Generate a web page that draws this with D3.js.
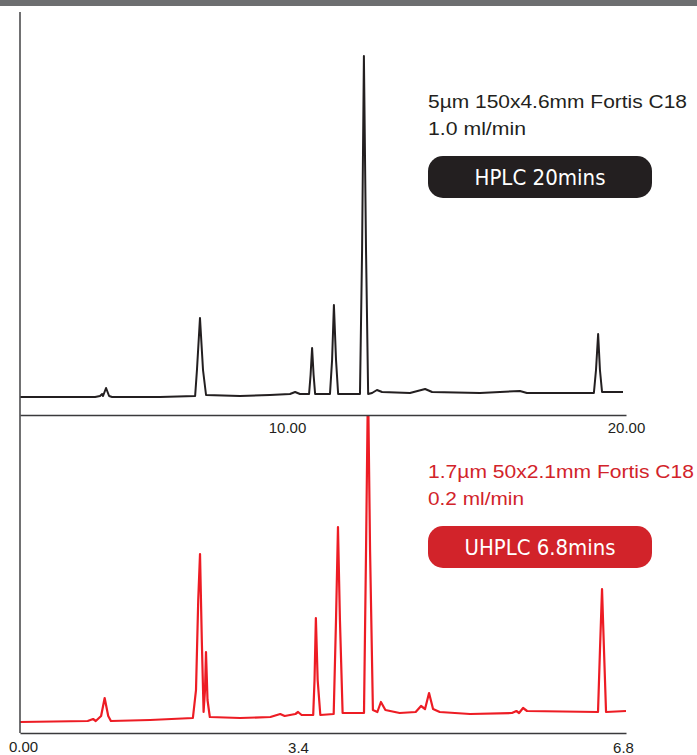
<!DOCTYPE html>
<html>
<head>
<meta charset="utf-8">
<script src="https://cdn.jsdelivr.net/npm/d3@7"></script>
<style>
  html, body { margin: 0; padding: 0; background: #fff; }
  svg { display: block; }
</style>
</head>
<body>
<div id="chart"></div>
<script>
// HPLC run (20 min), time in minutes and detector signal (arbitrary units)
const hplcTime = [0, 2.48, 2.64, 2.71, 2.74, 2.84, 2.94, 3.04, 4.62, 5.78, 5.84, 5.94, 6.04, 6.14,
  7.26, 8.25, 8.91, 9.08, 9.24, 9.54, 9.59, 9.64, 9.69, 9.74, 10.23, 10.30, 10.36, 10.43, 10.50,
  11.22, 11.29, 11.35, 11.42, 11.49, 11.62, 11.78, 11.95, 12.87, 13.37, 13.60, 15.18, 16.50, 16.73,
  18.94, 19.01, 19.08, 19.14, 19.21, 19.90];
const hplcSignal = [3, 3, 4, 6, 4, 12, 4, 3, 3, 4, 30, 82, 30, 5,
  4, 5, 6, 8, 6, 6, 25, 52, 25, 6, 6, 40, 95, 40, 6,
  6, 150, 344, 150, 6, 7, 10, 8, 7, 11, 8, 7, 9, 7,
  7, 30, 66, 30, 8, 8];

// UHPLC run (6.8 min)
const uhplcTime = [0, 0.76, 0.82, 0.85, 0.91, 0.95, 0.99, 1.02, 1.46, 1.94, 1.975, 2.00, 2.02, 2.04,
  2.06, 2.076, 2.087, 2.104, 2.13, 2.47, 2.81, 2.92, 2.97, 3.09, 3.12, 3.16, 3.29, 3.305, 3.32,
  3.34, 3.37, 3.52, 3.546, 3.568, 3.59, 3.62, 3.86, 3.883, 3.905, 3.928, 3.96, 4.01, 4.05, 4.10,
  4.26, 4.44, 4.50, 4.545, 4.59, 4.635, 4.71, 5.05, 5.52, 5.57, 5.60, 5.645, 5.69, 6.486, 6.508,
  6.531, 6.553, 6.576, 6.80];
const uhplcSignal = [3, 4, 6, 4, 9, 27, 9, 4, 5, 7, 35, 125, 171, 85,
  13, 35, 73, 25, 8, 7, 8, 11, 9, 11, 13, 10, 10, 45, 107,
  45, 10, 11, 105, 198, 105, 12, 12, 175, 345, 175, 15, 13, 23, 15,
  12, 13, 19, 16, 32, 16, 13, 11, 12, 14, 12, 17, 14, 13, 75,
  136, 75, 13, 14];

// Axis ticks
const hplcTicks = [10, 20];
const uhplcTicks = [0, 3.4, 6.8];

// Annotations
const hplcColumn = ['5µm 150x4.6mm Fortis C18', '1.0 ml/min'];
const hplcBadge = 'HPLC 20mins';
const uhplcColumn = ['1.7µm 50x2.1mm Fortis C18', '0.2 ml/min'];
const uhplcBadge = 'UHPLC 6.8mins';

const width = 697;
const height = 755;
const left = 20;
const right = 626;
const black = '#231f20';
const red = '#ed1c24';
const badgeRed = '#d2232a';

const svg = d3.select('#chart')
  .append('svg')
  .attr('width', width)
  .attr('height', height);

// Top grey band
svg.append('rect')
  .attr('x', 0)
  .attr('y', 0)
  .attr('width', width)
  .attr('height', 6)
  .attr('fill', '#6d6e70');

// Scales
const xTop = d3.scaleLinear().domain([0, 20]).range([left, right]);
const yTop = d3.scaleLinear().domain([0, 350]).range([400, 50]);
const xBot = d3.scaleLinear().domain([0, 6.8]).range([left, right]);
const yBot = d3.scaleLinear().domain([0, 350]).range([725, 375]);

// Clip the bottom trace at the upper axis
svg.append('clipPath')
  .attr('id', 'clip-bottom')
  .append('rect')
  .attr('x', 0)
  .attr('y', 416)
  .attr('width', width)
  .attr('height', 320);

// Traces
const topLine = d3.line()
  .x((d, i) => xTop(hplcTime[i]))
  .y(d => yTop(d));

const botLine = d3.line()
  .x((d, i) => xBot(uhplcTime[i]))
  .y(d => yBot(d));

svg.append('path')
  .datum(hplcSignal)
  .attr('fill', 'none')
  .attr('stroke', black)
  .attr('stroke-width', 2)
  .attr('stroke-linejoin', 'round')
  .attr('d', topLine);

svg.append('path')
  .datum(uhplcSignal)
  .attr('clip-path', 'url(#clip-bottom)')
  .attr('fill', 'none')
  .attr('stroke', red)
  .attr('stroke-width', 2.2)
  .attr('stroke-linejoin', 'round')
  .attr('d', botLine);

// Left vertical axis line
svg.append('line')
  .attr('x1', left)
  .attr('x2', left)
  .attr('y1', 12)
  .attr('y2', 733)
  .attr('stroke', '#4d4d4f')
  .attr('stroke-width', 1.6);

// X axes
const topAxis = svg.append('g')
  .attr('transform', 'translate(0,415)')
  .call(d3.axisBottom(xTop).tickValues(hplcTicks).tickFormat(d3.format('.2f')).tickSize(0));

const botAxis = svg.append('g')
  .attr('transform', 'translate(0,733)')
  .call(d3.axisBottom(xBot).tickValues(uhplcTicks)
    .tickFormat(d => d === 0 ? '0.00' : d3.format('.1f')(d)).tickSize(0));

[topAxis, botAxis].forEach(g => {
  g.select('.domain')
    .attr('stroke', '#3a3a3c')
    .attr('stroke-width', 1.6);
  g.selectAll('text')
    .attr('dy', 0)
    .style('font-family', '"Liberation Sans", Arial, sans-serif')
    .style('font-size', '15px')
    .attr('fill', black);
});

// nudge labels to where the original figure puts them
topAxis.selectAll('text')
  .attr('y', 18)
  .attr('dx', d => d === 10 ? -36 : 0);

botAxis.selectAll('text')
  .attr('y', d => d === 0 ? 19 : 20)
  .attr('dx', d => d === 0 ? 3 : d === 3.4 ? -25 : -3);

// Annotations
function annotate(lines, badge, y0, color, fill, widths, badgeWidth) {
  lines.forEach((t, i) => {
    svg.append('text')
      .attr('x', 428)
      .attr('y', y0 + i * 27)
      .attr('textLength', widths[i])
      .attr('lengthAdjust', 'spacingAndGlyphs')
      .style('font-family', '"Liberation Sans", Arial, sans-serif')
      .style('font-size', '17.5px')
      .attr('fill', color)
      .text(t);
  });

  svg.append('rect')
    .attr('x', 428)
    .attr('y', y0 + 48)
    .attr('width', 224)
    .attr('height', 42)
    .attr('rx', 15)
    .attr('fill', fill);

  svg.append('text')
    .attr('x', 540)
    .attr('y', y0 + 77)
    .attr('text-anchor', 'middle')
    .attr('textLength', badgeWidth)
    .attr('lengthAdjust', 'spacingAndGlyphs')
    .style('font-family', '"DejaVu Sans Condensed", "Liberation Sans Narrow", sans-serif')
    .style('font-size', '21px')
    .attr('fill', '#fff')
    .text(badge);
}

annotate(hplcColumn, hplcBadge, 108, black, black, [259, 98], 131);
annotate(uhplcColumn, uhplcBadge, 478, badgeRed, badgeRed, [266, 96], 151);
</script>
</body>
</html>
